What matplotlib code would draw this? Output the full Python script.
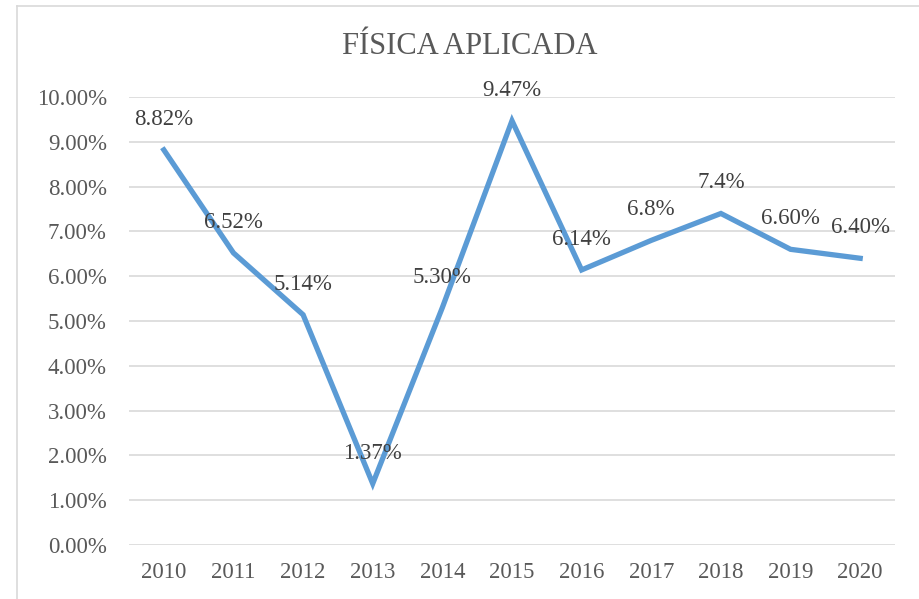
import matplotlib.pyplot as plt
from matplotlib.lines import Line2D

# Dados do gráfico
anos = ['2010', '2011', '2012', '2013', '2014', '2015', '2016', '2017', '2018', '2019', '2020']
valores = [8.82, 6.52, 5.14, 1.37, 5.30, 9.47, 6.14, 6.8, 7.4, 6.60, 6.40]
rotulos = ['8.82%', '6.52%', '5.14%', '1.37%', '5.30%', '9.47%', '6.14%', '6.8%', '7.4%', '6.60%', '6.40%']
ticks_y = [0, 1, 2, 3, 4, 5, 6, 7, 8, 9, 10]

plt.rcParams['font.family'] = ['Liberation Serif', 'DejaVu Serif']
cinza = '#595959'
azul = '#5B9BD5'

fig = plt.figure(figsize=(9.2, 5.99), dpi=100)
ax = fig.add_axes([129 / 920, 1 - 545 / 599, 766 / 920, 448 / 599])

x = list(range(len(anos)))
ax.plot(x, valores, color=azul, linewidth=3.8, solid_joinstyle='miter', zorder=3)

for xi, v, r in zip(x, valores, rotulos):
    ax.annotate(r, (xi, v), xytext=(0, 22), textcoords='offset points',
                ha='center', va='center', fontsize=16.5, color='#404040', zorder=4)

ax.set_xlim(-0.5, len(anos) - 0.5)
ax.set_ylim(0, 10)
ax.set_yticks(ticks_y)
ax.set_yticklabels(['%.2f%%' % t for t in ticks_y])
ax.set_xticks(x)
ax.set_xticklabels(anos)
ax.tick_params(axis='both', length=0, labelsize=16.5, labelcolor=cinza)
ax.tick_params(axis='y', pad=16)
ax.tick_params(axis='x', pad=12)
ax.grid(axis='y', color='#D9D9D9', linewidth=1.2)
ax.set_axisbelow(True)
for s in ax.spines.values():
    s.set_visible(False)

fig.text(470 / 920, 1 - 47 / 599, 'FÍSICA APLICADA', ha='center', va='center',
         fontsize=22, color=cinza)

# borda do gráfico (só esquerda e topo aparecem)
fig.add_artist(Line2D([17 / 920, 17 / 920], [0, 1 - 6 / 599], color='#D9D9D9', linewidth=1.2))
fig.add_artist(Line2D([17 / 920, 1], [1 - 6 / 599, 1 - 6 / 599], color='#D9D9D9', linewidth=1.2))

fig.savefig('out.png', dpi=100)
plt.close()
